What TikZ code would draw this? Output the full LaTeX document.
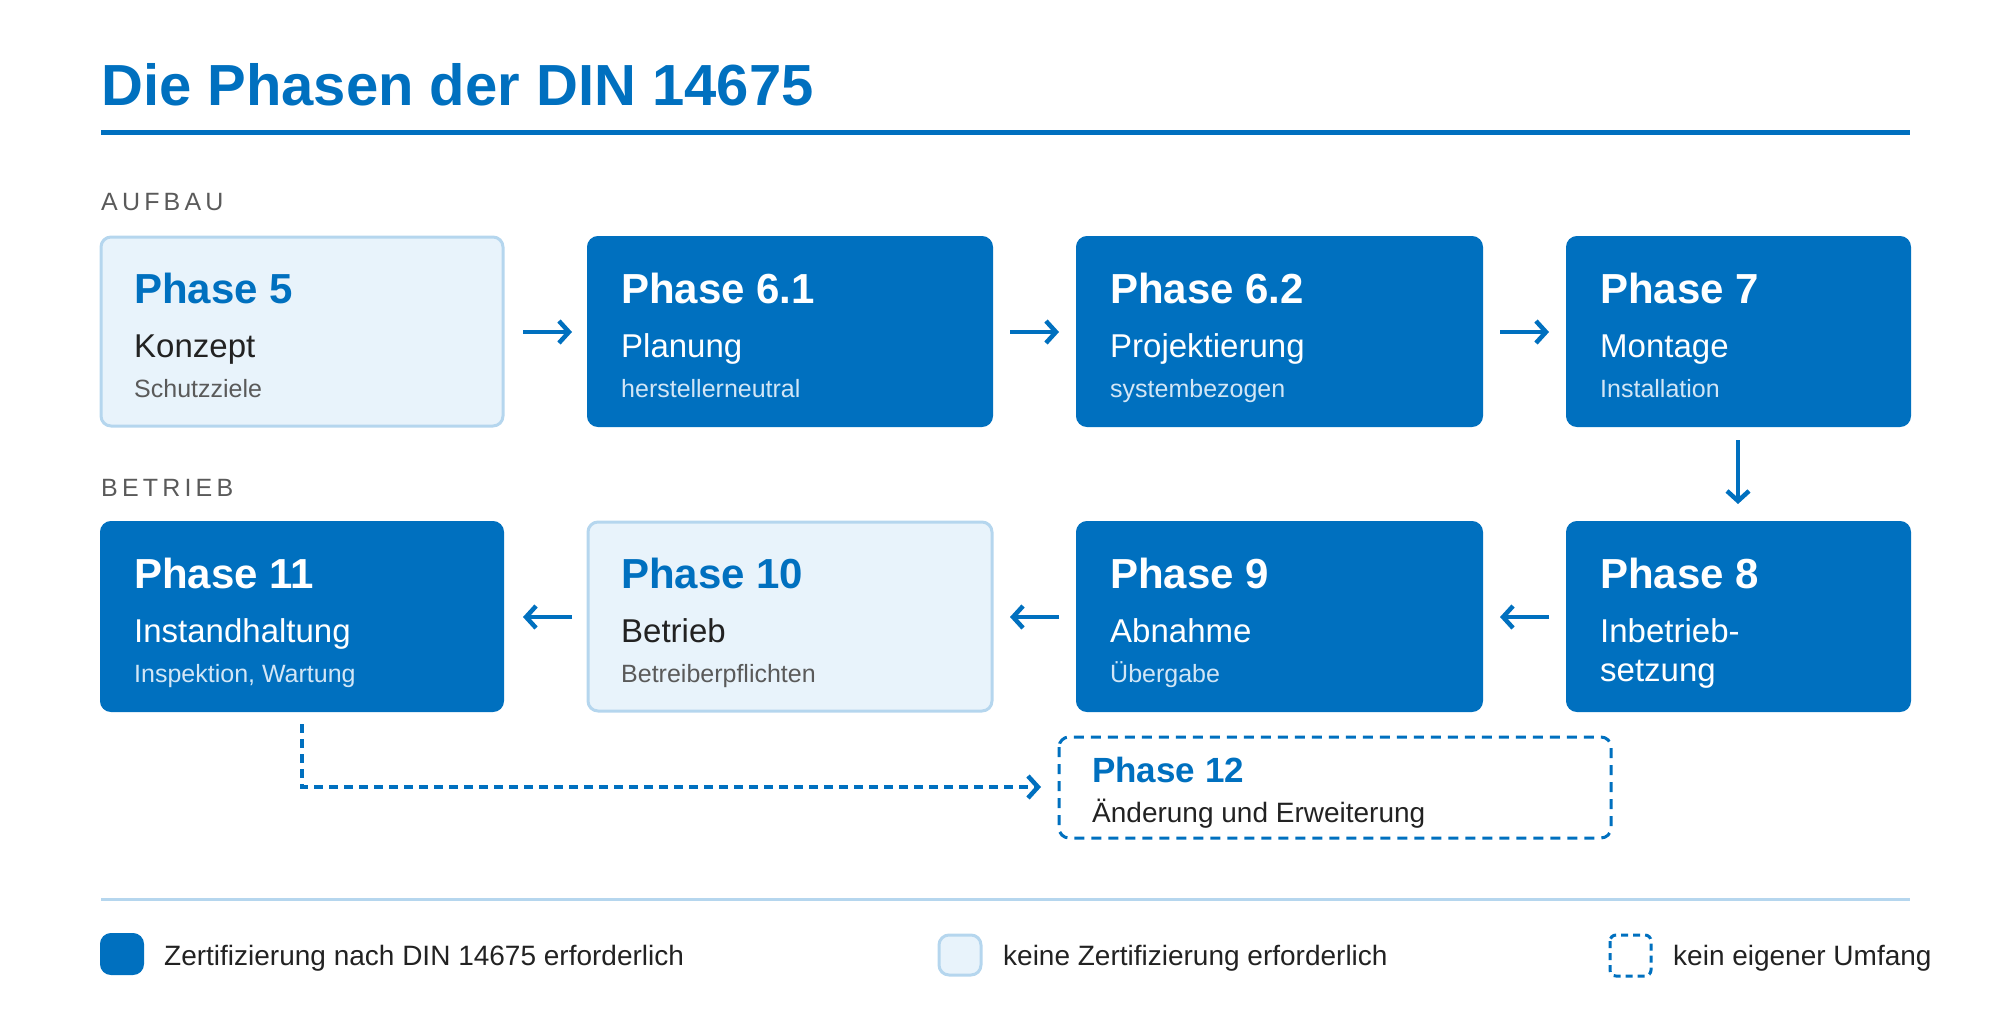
\documentclass[tikz,border=0pt]{standalone}
\usepackage{fontspec}
\setmainfont{Liberation Sans}
\usetikzlibrary{arrows.meta}
\definecolor{dinblue}{HTML}{0070BF}
\definecolor{lightfill}{HTML}{E8F3FB}
\definecolor{lightline}{HTML}{B5D6EE}
\definecolor{darktext}{HTML}{222222}
\definecolor{greytext}{HTML}{5A5A5A}
\definecolor{paletext}{HTML}{D2E6F6}
\tikzset{
  cert/.style={draw=dinblue,fill=dinblue,rounded corners=10pt,line width=2pt},
  nocert/.style={draw=lightline,fill=lightfill,rounded corners=10pt,line width=3pt},
  own/.style={draw=dinblue,dashed,dash pattern=on 10pt off 7pt,rounded corners=10pt,line width=3pt},
  flow/.style={dinblue,line width=4.5pt,-{Straight Barb[length=10pt,width=22pt,line width=4.5pt]}},
  txt/.style={anchor=base west,inner sep=0pt},
}
\newcommand{\fs}[1]{\fontsize{#1pt}{#1pt}\selectfont}
\begin{document}
\begin{tikzpicture}[x=1pt,y=-1pt]
\useasboundingbox (0,0) rectangle (2000,1034);
% title
\node[txt,text=dinblue,font=\fs{58}\bfseries] (title) at (101,105) {Die Phasen der DIN 14675};
\draw[dinblue,line width=5pt] (101,132) -- (1910,132);
\node[txt,text=greytext,font=\fs{25}] (aufbau) at (101,210) {A\,U\,F\,B\,A\,U};
\node[txt,text=greytext,font=\fs{25}] (betrieb) at (101,496) {B\,E\,T\,R\,I\,E\,B};
% boxes
\draw[nocert] (101,237) rectangle (503,426) coordinate (p5);
\draw[cert] (588,237) rectangle (992,426);
\draw[cert] (1077,237) rectangle (1482,426);
\draw[cert] (1567,237) rectangle (1910,426);
\draw[cert] (101,522) rectangle (503,711);
\draw[nocert] (588,522) rectangle (992,711);
\draw[cert] (1077,522) rectangle (1482,711);
\draw[cert] (1567,522) rectangle (1910,711);
\draw[own] (1059,737) rectangle (1611,838);
% texts
\foreach \x/\y/\t/\s/\k/\c/\d/\e in {
  134/0/Phase 5/Konzept/Schutzziele/dinblue/darktext/greytext,
  621/0/Phase 6.1/Planung/herstellerneutral/white/white/paletext,
  1110/0/Phase 6.2/Projektierung/systembezogen/white/white/paletext,
  1600/0/Phase 7/Montage/Installation/white/white/paletext,
  134/285/Phase 11/Instandhaltung/{Inspektion, Wartung}/white/white/paletext,
  621/285/Phase 10/Betrieb/Betreiberpflichten/dinblue/darktext/greytext,
  1110/285/Phase 9/Abnahme/Übergabe/white/white/paletext}{
  \node[txt,text=\c,font=\fs{42}\bfseries] at (\x,303+\y) {\t};
  \node[txt,text=\d,font=\fs{33}] at (\x,357+\y) {\s};
  \node[txt,text=\e,font=\fs{25}] at (\x,397+\y) {\k};
}
\node[txt,text=white,font=\fs{42}\bfseries] (p8) at (1600,588) {Phase 8};
\node[txt,text=white,font=\fs{33}] (p8a) at (1600,642) {Inbetrieb-};
\node[txt,text=white,font=\fs{33}] (p8b) at (1600,681) {setzung};
\node[txt,text=dinblue,font=\fs{35}\bfseries] (p12) at (1092,782) {Phase 12};
\node[txt,text=darktext,font=\fs{28}] (p12a) at (1092,822) {Änderung und Erweiterung};
% connectors
\coordinate (a1) at (523,332); \coordinate (b1) at (572,332);
\coordinate (a2) at (1010,332); \coordinate (b2) at (1059,332);
\coordinate (a3) at (1500,332); \coordinate (b3) at (1549,332);
\coordinate (a4) at (1738,440); \coordinate (b4) at (1738,504);
\coordinate (a5) at (1549,617); \coordinate (b5) at (1500,617);
\coordinate (a6) at (1059,617); \coordinate (b6) at (1010,617);
\coordinate (a7) at (572,617); \coordinate (b7) at (523,617);
\foreach \i in {1,...,7} \draw[flow] (a\i) -- (b\i);
\coordinate (d1) at (302,724); \coordinate (d2) at (1041,787);
\draw[flow,line width=3.5pt,dash pattern=on 9pt off 6pt] (d1) |- (d2);
% legend
\draw[lightline,line width=3pt] (101,899) -- (1910,899);
\draw[cert] (101,934) rectangle (143,974);
\node[txt,text=darktext,font=\fs{28}] (l1) at (164,965) {Zertifizierung nach DIN 14675 erforderlich};
\draw[nocert] (939,935) rectangle (981,975);
\node[txt,text=darktext,font=\fs{28}] (l2) at (1003,965) {keine Zertifizierung erforderlich};
\draw[own,dash pattern=on 7pt off 5pt,rounded corners=6pt] (1610,935) rectangle (1651,976);
\node[txt,text=darktext,font=\fs{28}] (l3) at (1673,965) {kein eigener Umfang};
\end{tikzpicture}
\end{document}
